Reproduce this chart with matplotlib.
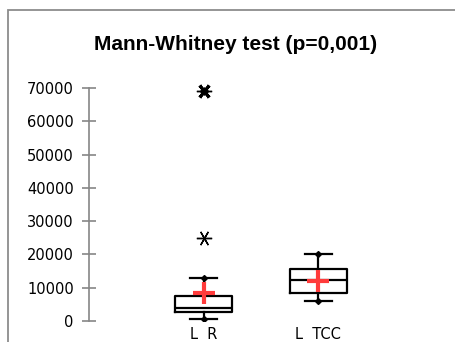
import matplotlib
matplotlib.use("Agg")
import matplotlib.pyplot as plt
from matplotlib.patches import Rectangle

# data
groups = ["L  R", "L  TCC"]
whislo = [600, 6000]
q1 = [2700, 8400]
medians = [3900, 12300]
q3 = [7500, 15600]
whishi = [12900, 20100]
means = [8400, 12000]
outlier_x = [1, 1]
outlier_y = [25000, 69000]
yticks = [0, 10000, 20000, 30000, 40000, 50000, 60000, 70000]

fig = plt.figure(figsize=(4.56, 3.42), dpi=100)

# outer chart frame (partly cut off on the right and bottom)
fig.patches.append(Rectangle((8 / 456, -0.1), 1.2, 1 - 10 / 342 + 0.1,
                             transform=fig.transFigure, fill=False,
                             edgecolor="#8c8c8c", linewidth=1.3))

ax = fig.add_axes([89 / 456, 21 / 342, 367 / 456, 233 / 342])

stats = []
for i in range(len(groups)):
    stats.append({"label": groups[i], "whislo": whislo[i], "q1": q1[i],
                  "med": medians[i], "q3": q3[i], "whishi": whishi[i],
                  "mean": means[i], "fliers": []})

ax.bxp(stats, positions=[1, 2], widths=0.5, showmeans=True,
       boxprops=dict(color="black", linewidth=1.6),
       medianprops=dict(color="black", linewidth=1.6),
       whiskerprops=dict(color="black", linewidth=1.6),
       capprops=dict(color="black", linewidth=1.6),
       capwidths=0.23,
       meanprops=dict(marker="+", markersize=16, markeredgewidth=3,
                      markeredgecolor="#ff3b3b"))

# little dots at the whisker ends
ax.plot([1, 2], whislo, "D", color="black", markersize=3)
ax.plot([1, 2], whishi, "D", color="black", markersize=3)

# outliers
ax.plot(outlier_x, outlier_y, linestyle="none", marker=(6, 2, 90),
        markersize=11, markeredgecolor="black", markeredgewidth=1,
        clip_on=False)
ax.plot(outlier_x[1:], outlier_y[1:], linestyle="none", marker="o",
        markersize=5, color="black", clip_on=False)
ax.plot(outlier_x[1:], outlier_y[1:], linestyle="none", marker=(4, 2, 45),
        markersize=11, markeredgecolor="black", markeredgewidth=1.2,
        clip_on=False)

ax.set_xlim(0, 3.2)
ax.set_ylim(0, 70000)
ax.set_yticks(yticks)
ax.set_yticklabels([str(v) for v in yticks])
ax.set_xticks([1, 2])
ax.set_xticklabels(groups)

for s in ["top", "right", "bottom"]:
    ax.spines[s].set_visible(False)
ax.spines["left"].set_color("#868686")
ax.spines["left"].set_linewidth(1.2)
ax.tick_params(axis="y", direction="inout", length=10, width=1.2,
               color="#868686", labelsize=10.5, pad=6)
ax.tick_params(axis="x", length=0, labelsize=10.5, pad=4)

fig.text(236 / 456, 1 - 45 / 342, "Mann-Whitney test (p=0,001)",
         ha="center", va="center", fontsize=15, fontweight="bold",
         family="Liberation Sans")

fig.savefig("out.png", dpi=100)
